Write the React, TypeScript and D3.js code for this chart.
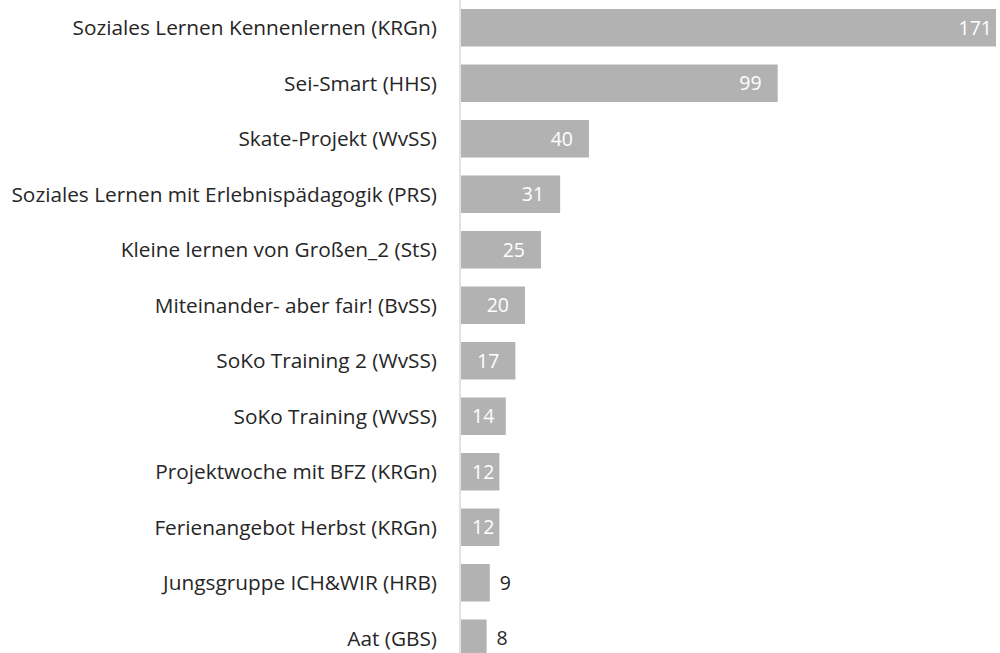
import { useRef, useEffect } from "react";
import * as d3 from "d3";

const categories = [
  "Soziales Lernen Kennenlernen (KRGn)",
  "Sei-Smart (HHS)",
  "Skate-Projekt (WvSS)",
  "Soziales Lernen mit Erlebnispädagogik (PRS)",
  "Kleine lernen von Großen_2 (StS)",
  "Miteinander- aber fair! (BvSS)",
  "SoKo Training 2 (WvSS)",
  "SoKo Training (WvSS)",
  "Projektwoche mit BFZ (KRGn)",
  "Ferienangebot Herbst (KRGn)",
  "Jungsgruppe ICH&WIR (HRB)",
  "Aat (GBS)",
];
const values = [171, 99, 40, 31, 25, 20, 17, 14, 12, 12, 9, 8];

const App = () => {
  const svgRef = useRef<SVGSVGElement>(null);

  useEffect(() => {
    const svg = d3.select(svgRef.current);
    svg.selectAll("*").remove();
    const width = 1000,
      height = 653,
      font = "'Open Sans', 'Noto Sans', sans-serif";

    const x = d3.scaleLinear().domain([0, 171]).range([461, 1008]);
    const y = d3
      .scaleBand()
      .domain(categories)
      .range([0, 666])
      .paddingInner(0.324)
      .paddingOuter(0.162);

    svg
      .append("defs")
      .append("clipPath")
      .attr("id", "plot-clip")
      .append("rect")
      .attr("x", 0)
      .attr("y", 0)
      .attr("width", 996)
      .attr("height", height);

    const rows = categories.map((c, i) => ({ c, v: values[i] }));

    const plot = svg.append("g").attr("clip-path", "url(#plot-clip)");

    plot
      .selectAll("rect.bar")
      .data(rows)
      .join("rect")
      .attr("class", "bar")
      .attr("x", x(0))
      .attr("y", (d) => y(d.c)!)
      .attr("width", (d) => x(d.v) - x(0))
      .attr("height", y.bandwidth())
      .attr("fill", "#b2b2b2");

    // axis line
    svg
      .append("line")
      .attr("x1", x(0) - 1)
      .attr("x2", x(0) - 1)
      .attr("y1", 0)
      .attr("y2", height)
      .attr("stroke", "#d9d9d9")
      .attr("stroke-width", 1.5);

    // category labels
    svg
      .selectAll("text.cat")
      .data(rows)
      .join("text")
      .attr("class", "cat")
      .attr("x", 437)
      .attr("y", (d) => y(d.c)! + y.bandwidth() / 2)
      .attr("dy", "0.36em")
      .attr("text-anchor", "end")
      .attr("font-family", font)
      .attr("font-size", 20.8)
      .attr("fill", "#262626")
      .text((d) => d.c);

    // value labels: inside end when they fit, outside otherwise
    const inside = (v: number) => x(v) - x(0) > 33;
    plot
      .selectAll("text.val")
      .data(rows)
      .join("text")
      .attr("class", "val")
      .attr("y", (d) => y(d.c)! + y.bandwidth() / 2)
      .attr("dy", "0.36em")
      .attr("text-anchor", "start")
      .attr("font-family", font)
      .attr("font-size", 19.5)
      .attr("fill", (d) => (inside(d.v) ? "#ffffff" : "#262626"))
      .text((d) => d.v)
      .attr("x", function (d) {
        const w = (this as SVGTextElement).getComputedTextLength();
        return inside(d.v)
          ? Math.max(x(d.v) - 16 - w, x(0) + 11)
          : x(d.v) + 10;
      });

    svg.attr("width", width).attr("height", height);
  }, []);

  return (
    <svg
      ref={svgRef}
      width={1000}
      height={653}
      style={{ position: "absolute", left: 0, top: 0, background: "#fff" }}
    ></svg>
  );
};

export default App;
